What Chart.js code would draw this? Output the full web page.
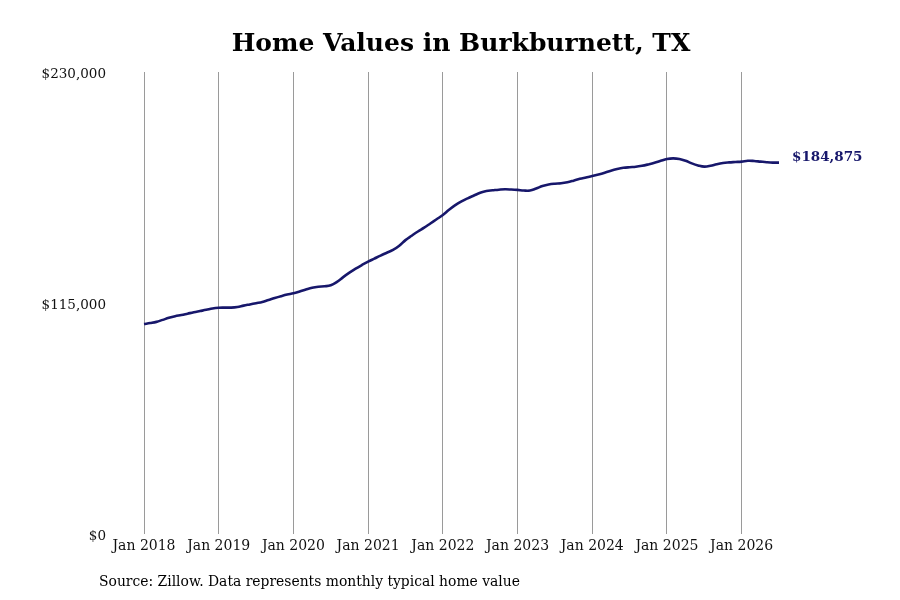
<!DOCTYPE html>
<html>
<head>
<meta charset="utf-8">
<script src="https://cdn.jsdelivr.net/npm/chart.js@4.4.1/dist/chart.umd.min.js"></script>
<style>
  html, body { margin: 0; padding: 0; background: #fff; }
  #wrap { width: 900px; height: 600px; }
</style>
</head>
<body>
<div id="wrap"><canvas id="homeValues"></canvas></div>
<script>
// monthly typical home value, Jan 2018 .. Jul 2026
const startYear = 2018;
const monthNames = ['Jan','Feb','Mar','Apr','May','Jun','Jul','Aug','Sep','Oct','Nov','Dec'];
const homeValues = [
    104500, 105000, 105600, 106600, 107600, 108400, 109000, 109700, 110400, 111000, 111600, 112300,
    112650, 112700, 112700, 113000, 113700, 114300, 114900, 115500, 116500, 117500, 118400, 119200,
    119800, 120700, 121700, 122600, 123100, 123300, 123800, 125500, 127900, 130100, 132100, 133900,
    135600, 137100, 138600, 140000, 141400, 143500, 146300, 148500, 150600, 152500, 154600, 156700,
    158800, 161400, 163700, 165600, 167100, 168500, 169900, 170800, 171100, 171400, 171600, 171500,
    171300, 171000, 171000, 172000, 173200, 174000, 174400, 174600, 175100, 175900, 176800, 177500,
    178200, 179000, 179900, 180900, 181700, 182300, 182600, 182800, 183300, 184000, 184800, 185800,
    186700, 187000, 186700, 185800, 184500, 183500, 182900, 183300, 184100, 184700, 185000, 185200,
    185400, 185800, 185700, 185400, 185100, 184900, 184875
];
const yTicks = [0, 115000, 230000];

const chartTitle = 'Home Values in Burkburnett, TX';
const sourceNote = 'Source: Zillow. Data represents monthly typical home value';

// month labels like "Jan 2018"
let monthLabels = [];
for (let i = 0; i < homeValues.length; i++) {
    monthLabels.push(monthNames[i % 12] + ' ' + (startYear + Math.floor(i / 12)));
}

const lineColor = '#17176b';
const serif = "'DejaVu Serif', 'Liberation Serif', serif";

function money(v) {
    return '$' + Math.round(v).toLocaleString('en-US');
}

// title, source line and the end value label
const extraText = {
    id: 'extraText',
    afterDraw(chart) {
        const ctx = chart.ctx;
        ctx.save();
        ctx.fillStyle = '#000';
        ctx.textBaseline = 'middle';
        ctx.textAlign = 'center';
        ctx.font = 'bold 25px ' + serif;
        ctx.fillText(chartTitle, 461, 44);

        ctx.textAlign = 'left';
        ctx.font = '13.9px ' + serif;
        ctx.fillText(sourceNote, 99, 582);

        const meta = chart.getDatasetMeta(0);
        const last = meta.data[meta.data.length - 1];
        ctx.fillStyle = lineColor;
        ctx.font = 'bold 13.5px ' + serif;
        ctx.fillText(money(homeValues[homeValues.length - 1]), last.x + 13, last.y - 5);
        ctx.restore();
    }
};

new Chart(document.getElementById('homeValues'), {
    type: 'line',
    data: {
        labels: monthLabels,
        datasets: [{
            data: homeValues,
            borderColor: lineColor,
            borderWidth: 2.6,
            pointRadius: 0,
            tension: 0.4,
            fill: false
        }]
    },
    options: {
        responsive: true,
        maintainAspectRatio: false,
        animation: false,
        layout: { padding: { left: 0, right: 121, top: 72, bottom: 0 } },
        plugins: {
            legend: { display: false },
            title: { display: false },
            tooltip: { enabled: false }
        },
        scales: {
            x: {
                type: 'category',
                offset: false,
                border: { display: false },
                grid: {
                    drawTicks: false,
                    color: (c) => (c.index % 12 === 0 ? '#9a9a9a' : 'rgba(0,0,0,0)'),
                    lineWidth: 1
                },
                ticks: {
                    autoSkip: false,
                    maxRotation: 0,
                    padding: 4,
                    color: '#111',
                    font: { family: serif, size: 14 },
                    callback: function(val, index) {
                        return index % 12 === 0 ? monthLabels[index] : '';
                    }
                },
                afterFit(scale) { scale.height = 66; }
            },
            y: {
                min: 0,
                max: 230000,
                border: { display: false },
                grid: { display: false, drawTicks: false },
                afterBuildTicks(scale) {
                    scale.ticks = yTicks.map(v => ({ value: v }));
                },
                ticks: {
                    padding: 38,
                    labelOffset: 2,
                    color: '#111',
                    font: { family: serif, size: 13.5 },
                    callback: (v) => money(v)
                },
                afterFit(scale) { scale.width = 144; }
            }
        }
    },
    plugins: [extraText]
});
</script>
</body>
</html>
